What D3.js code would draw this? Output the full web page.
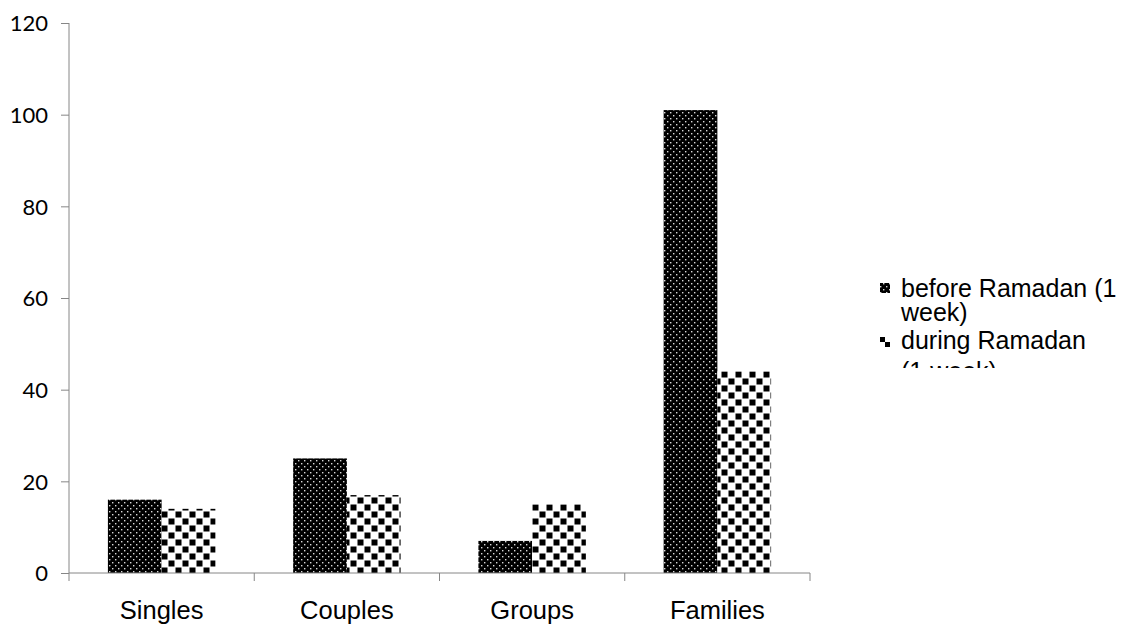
<!DOCTYPE html>
<html>
<head>
<meta charset="utf-8">
<script src="https://cdn.jsdelivr.net/npm/d3@7"></script>
<style>
  html, body { margin: 0; padding: 0; background: #fff; }
  svg { display: block; }
</style>
</head>
<body>
<svg id="chart" width="1135" height="625"></svg>
<script>
// Visitor counts by group type, before and during Ramadan
const categories = ["Singles", "Couples", "Groups", "Families"];
const seriesNames = ["before Ramadan (1 week)", "during Ramadan (1 week)"];
const beforeValues = [16, 25, 7, 101];
const duringValues = [14, 17, 15, 44];
const yTicks = [0, 20, 40, 60, 80, 100, 120];

const svg = d3.select("#chart");
const defs = svg.append("defs");

// Black fill with a staggered grid of small white dots
const dots = defs.append("pattern")
  .attr("id", "pat-dots").attr("patternUnits", "userSpaceOnUse")
  .attr("width", 6).attr("height", 6);
dots.append("rect").attr("width", 6).attr("height", 6).attr("fill", "#000");
dots.append("rect").attr("x", 1).attr("y", 1).attr("width", 1.4).attr("height", 1.4).attr("fill", "#d8d8d8");
dots.append("rect").attr("x", 4).attr("y", 4).attr("width", 1.4).attr("height", 1.4).attr("fill", "#d8d8d8");

// Black and white checkerboard
const checks = defs.append("pattern")
  .attr("id", "pat-checks").attr("patternUnits", "userSpaceOnUse")
  .attr("width", 14).attr("height", 14);
checks.append("rect").attr("width", 14).attr("height", 14).attr("fill", "#fff");
checks.append("rect").attr("x", 0.5).attr("y", 0.5).attr("width", 6).attr("height", 6).attr("fill", "#000");
checks.append("rect").attr("x", 7.5).attr("y", 7.5).attr("width", 6).attr("height", 6).attr("fill", "#000");

// Smaller checkerboard for the legend swatch (scaled to the bounding box)
const checksSmall = defs.append("pattern")
  .attr("id", "pat-checks-small").attr("patternUnits", "objectBoundingBox")
  .attr("patternContentUnits", "objectBoundingBox")
  .attr("width", 1).attr("height", 1);
checksSmall.append("rect").attr("width", 1).attr("height", 1).attr("fill", "#fff");
checksSmall.append("rect").attr("x", 0).attr("y", 0).attr("width", 0.5).attr("height", 0.5).attr("fill", "#000");
checksSmall.append("rect").attr("x", 0.5).attr("y", 0.5).attr("width", 0.5).attr("height", 0.5).attr("fill", "#000");

const fills = ["url(#pat-dots)", "url(#pat-checks)"];
const legendFills = ["url(#pat-dots)", "url(#pat-checks-small)"];
const series = [beforeValues, duringValues];

const x = d3.scaleBand().domain(categories).range([69, 810]).padding(0);
const inner = d3.scaleBand().domain(d3.range(seriesNames.length))
  .range([x.bandwidth() * 0.21, x.bandwidth() * 0.79]).padding(0);
const y = d3.scaleLinear().domain([0, 120]).range([573, 23]);

const axisColor = "#868686";

// Bars
series.forEach((vals, si) => {
  svg.append("g").selectAll("rect").data(vals).join("rect")
    .attr("x", (d, i) => x(categories[i]) + inner(si))
    .attr("y", d => y(d))
    .attr("width", inner.bandwidth())
    .attr("height", d => y(0) - y(d))
    .attr("fill", fills[si]);
});

// Y axis
const yAxis = svg.append("g").attr("transform", "translate(69,0)")
  .call(d3.axisLeft(y).tickValues(yTicks).tickSize(8).tickPadding(13));
yAxis.select(".domain").attr("stroke", axisColor).attr("d", `M0,${y(120)}V${y(0)}`);
yAxis.selectAll(".tick line").attr("stroke", axisColor);
yAxis.selectAll(".tick text")
  .attr("fill", "#000").attr("font-family", "Lato, 'Open Sans', sans-serif")
  .attr("font-size", 22).attr("dy", "0.35em");

// X axis
const xAxis = svg.append("g").attr("transform", `translate(0,${y(0)})`);
xAxis.append("line").attr("x1", 69).attr("x2", 810).attr("stroke", axisColor);
xAxis.selectAll("line.tick").data(categories.concat([null])).join("line")
  .attr("class", "tick")
  .attr("x1", (d, i) => 69 + i * x.step()).attr("x2", (d, i) => 69 + i * x.step())
  .attr("y1", 0).attr("y2", 8).attr("stroke", axisColor);
xAxis.selectAll("text").data(categories).join("text")
  .attr("x", d => x(d) + x.bandwidth() / 2)
  .attr("y", 46)
  .attr("text-anchor", "middle")
  .attr("font-family", "'Liberation Sans', Arial, sans-serif")
  .attr("font-size", 25.5)
  .attr("fill", "#000")
  .text(d => d);

// Legend: each entry wraps onto two lines; the box clips the overflow
defs.append("clipPath").attr("id", "legend-clip")
  .append("rect").attr("x", 870).attr("y", 265).attr("width", 265).attr("height", 103);
const legend = svg.append("g").attr("clip-path", "url(#legend-clip)");
const legendLines = [["before Ramadan (1", "week)"], ["during Ramadan", "(1 week)"]];
const lineGaps = [24, 31];
const baselines = [297, 349];
legendLines.forEach((lines, si) => {
  const base = baselines[si];
  legend.append("rect").attr("x", 880).attr("y", base - 14 + si * 2).attr("width", 10).attr("height", 10)
    .attr("fill", legendFills[si]);
  const txt = legend.append("text")
    .attr("x", 901).attr("y", base)
    .attr("font-family", "'Liberation Sans', Arial, sans-serif")
    .attr("font-size", 25).attr("fill", "#000");
  lines.forEach((t, li) => {
    txt.append("tspan")
      .attr("x", 901).attr("y", base + li * lineGaps[si])
      .text(t);
  });
});
</script>
</body>
</html>
